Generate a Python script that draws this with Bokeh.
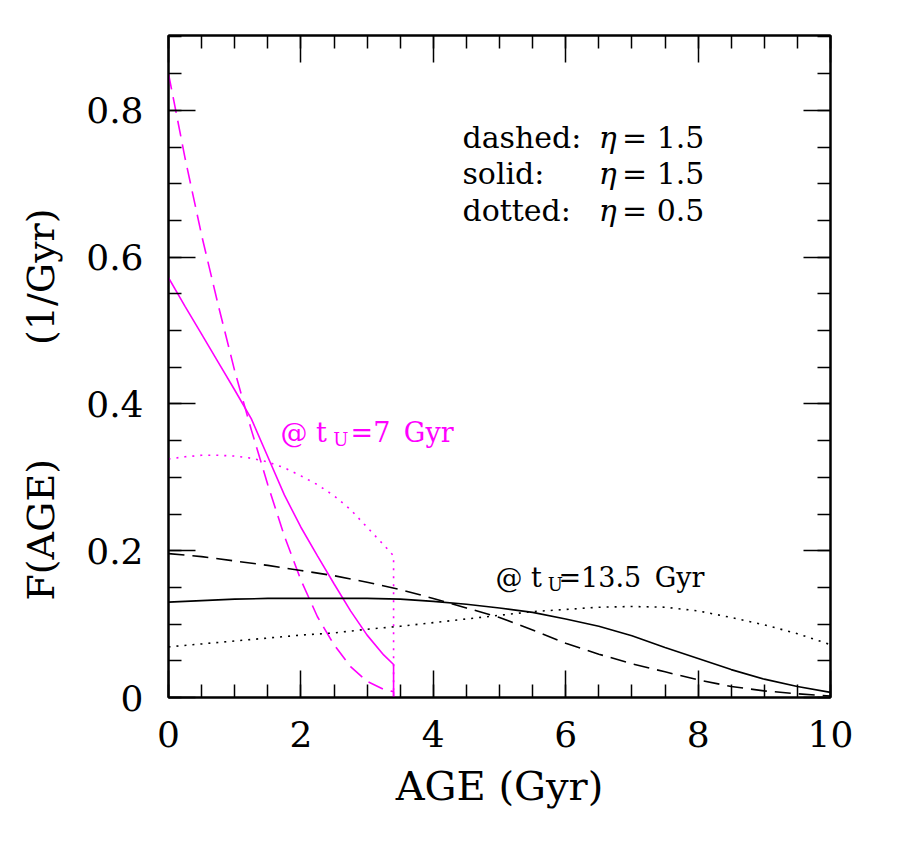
from bokeh.plotting import figure
from bokeh.models import Range1d, FixedTicker, LinearAxis, Label
from bokeh.embed import file_html
from bokeh.resources import INLINE

# ---------------- data ----------------
# magenta curves: universe age t_U = 7 Gyr (curves end at age 3.4 Gyr)
age_7 = [0.0, 0.25, 0.5, 0.75, 1.0, 1.25, 1.5, 1.75, 2.0, 2.25, 2.5, 2.75, 3.0, 3.25, 3.4, 3.4]
f7_dashed = [0.850, 0.735, 0.630, 0.535, 0.445, 0.365, 0.290, 0.220, 0.160, 0.110, 0.072, 0.042, 0.022, 0.011, 0.008, 0.0]
f7_solid = [0.572, 0.533, 0.495, 0.457, 0.419, 0.380, 0.328, 0.276, 0.232, 0.193, 0.155, 0.118, 0.085, 0.058, 0.045, 0.0]
f7_dotted = [0.325, 0.328, 0.330, 0.330, 0.329, 0.326, 0.321, 0.313, 0.302, 0.290, 0.275, 0.256, 0.232, 0.208, 0.193, 0.0]

# black curves: universe age t_U = 13.5 Gyr
age_135 = [0.0, 0.5, 1.0, 1.5, 2.0, 2.5, 3.0, 3.5, 4.0, 4.5, 5.0, 5.5, 6.0, 6.5, 7.0, 7.5, 8.0, 8.5, 9.0, 9.5, 10.0]
f135_dashed = [0.196, 0.192, 0.186, 0.180, 0.173, 0.166, 0.157, 0.147, 0.135, 0.122, 0.109, 0.092, 0.074, 0.059, 0.046, 0.035, 0.024, 0.015, 0.009, 0.005, 0.002]
f135_solid = [0.130, 0.132, 0.134, 0.135, 0.135, 0.135, 0.135, 0.134, 0.131, 0.127, 0.122, 0.116, 0.107, 0.097, 0.084, 0.068, 0.053, 0.038, 0.025, 0.015, 0.007]
f135_dotted = [0.069, 0.073, 0.077, 0.081, 0.085, 0.088, 0.093, 0.097, 0.102, 0.107, 0.112, 0.117, 0.120, 0.123, 0.124, 0.123, 0.118, 0.109, 0.099, 0.087, 0.072]

x_ticks = [0, 2, 4, 6, 8, 10]
x_tick_labels = ["0", "2", "4", "6", "8", "10"]
x_minor = [i * 0.5 for i in range(21)]
y_ticks = [0, 0.2, 0.4, 0.6, 0.8]
y_tick_labels = ["0", "0.2", "0.4", "0.6", "0.8"]
y_minor = [i * 0.05 for i in range(19)]

legend_words = ["dashed:", "solid:", "dotted:"]
legend_eta = ["1.5", "1.5", "0.5"]

x_label = "AGE (Gyr)"
y_label = "F(AGE)\u2003\u2003\u2003(1/Gyr)\u2003\u2003"

MAGENTA = "#ff00ff"
SERIF = "DejaVu Serif"
TXT_SHIFT = 10  # screen-pixel lift of annotation text

# ---------------- figure ----------------
p = figure(frame_width=662, frame_height=662,
           x_range=Range1d(0, 10), y_range=Range1d(0, 0.902),
           output_backend="svg", toolbar_location=None,
           min_border_left=168, min_border_top=35, min_border_right=40,
           min_border_bottom=120)
p.grid.visible = False
p.background_fill_color = "white"
p.border_fill_color = "white"
p.outline_line_color = "black"
p.outline_line_width = 2

xt = FixedTicker(ticks=x_ticks, minor_ticks=x_minor)
yt = FixedTicker(ticks=y_ticks, minor_ticks=y_minor)


def style_axis(ax, labels=None, ticks=None):
    ax.axis_line_width = 2
    ax.axis_line_color = "black"
    ax.major_tick_in = 27
    ax.major_tick_out = 0
    ax.minor_tick_in = 13
    ax.minor_tick_out = 0
    ax.major_tick_line_width = 1.5
    ax.minor_tick_line_width = 1.5
    ax.major_label_text_font = SERIF
    ax.major_label_text_font_size = "36px"
    ax.major_label_text_color = "black"
    ax.axis_label_text_font = SERIF
    ax.axis_label_text_font_size = "40px"
    ax.axis_label_text_font_style = "normal"
    ax.axis_label_text_color = "black"
    if labels is not None:
        ax.major_label_overrides = {t: l for t, l in zip(ticks, labels)}


xa = p.xaxis[0]
xa.ticker = xt
style_axis(xa, x_tick_labels, x_ticks)
xa.major_label_standoff = 23
xa.axis_label = x_label
xa.axis_label_standoff = 13

ya = p.yaxis[0]
ya.ticker = yt
style_axis(ya, y_tick_labels, y_ticks)
ya.major_label_standoff = 25
ya.axis_label = y_label
ya.axis_label_text_font_size = "38px"
ya.axis_label_standoff = 20

top = LinearAxis(ticker=xt)
style_axis(top)
top.major_label_text_font_size = "0px"
top.major_label_standoff = 0
top.major_label_overrides = {t: "" for t in x_ticks}
p.add_layout(top, "above")

right = LinearAxis(ticker=yt)
style_axis(right)
right.major_label_text_font_size = "0px"
right.major_label_standoff = 0
right.major_label_overrides = {t: "" for t in y_ticks}
p.add_layout(right, "right")

# ---------------- curves ----------------
p.line(age_7, f7_dashed, line_color=MAGENTA, line_width=1.6, line_dash="16 8")
p.line(age_7, f7_solid, line_color=MAGENTA, line_width=1.6)
p.line(age_7, f7_dotted, line_color=MAGENTA, line_width=1.6, line_dash="2 6")

p.line(age_135, f135_dashed, line_color="black", line_width=1.6, line_dash="16 8")
p.line(age_135, f135_solid, line_color="black", line_width=1.6)
p.line(age_135, f135_dotted, line_color="black", line_width=1.6, line_dash="2 6")

# ---------------- annotations ----------------
legend_y = [0.750, 0.700, 0.650]
for word, eta, yy in zip(legend_words, legend_eta, legend_y):
    p.add_layout(Label(x=4.44, y=yy, y_offset=TXT_SHIFT, text=word, text_font=SERIF,
                       text_font_size="30px", text_color="black",
                       text_baseline="alphabetic"))
    p.add_layout(Label(x=6.50, y=yy, y_offset=TXT_SHIFT, text="\u03b7", text_font=SERIF,
                       text_font_size="30px", text_font_style="italic",
                       text_color="black", text_baseline="alphabetic"))
    p.add_layout(Label(x=6.85, y=yy, y_offset=TXT_SHIFT, text="= " + eta, text_font=SERIF,
                       text_font_size="30px", text_color="black",
                       text_baseline="alphabetic"))


def tu_label(x0, y0, x_sub, x_rest, rest, color):
    p.add_layout(Label(x=x0, y=y0, y_offset=TXT_SHIFT, text="@ t", text_font=SERIF,
                       text_font_size="27px", text_color=color,
                       text_baseline="alphabetic"))
    p.add_layout(Label(x=x_sub, y=y0, y_offset=TXT_SHIFT - 7, text="U", text_font=SERIF,
                       text_font_size="18px", text_color=color,
                       text_baseline="alphabetic"))
    p.add_layout(Label(x=x_rest, y=y0, y_offset=TXT_SHIFT, text=rest, text_font=SERIF,
                       text_font_size="27px", text_color=color,
                       text_baseline="alphabetic"))


tu_label(1.69, 0.348, 2.49, 2.75, "=7\u2002Gyr", MAGENTA)
tu_label(4.94, 0.150, 5.73, 5.89, "=13.5\u2002Gyr", "black")

open("out.html", "w").write(file_html(p, INLINE))
